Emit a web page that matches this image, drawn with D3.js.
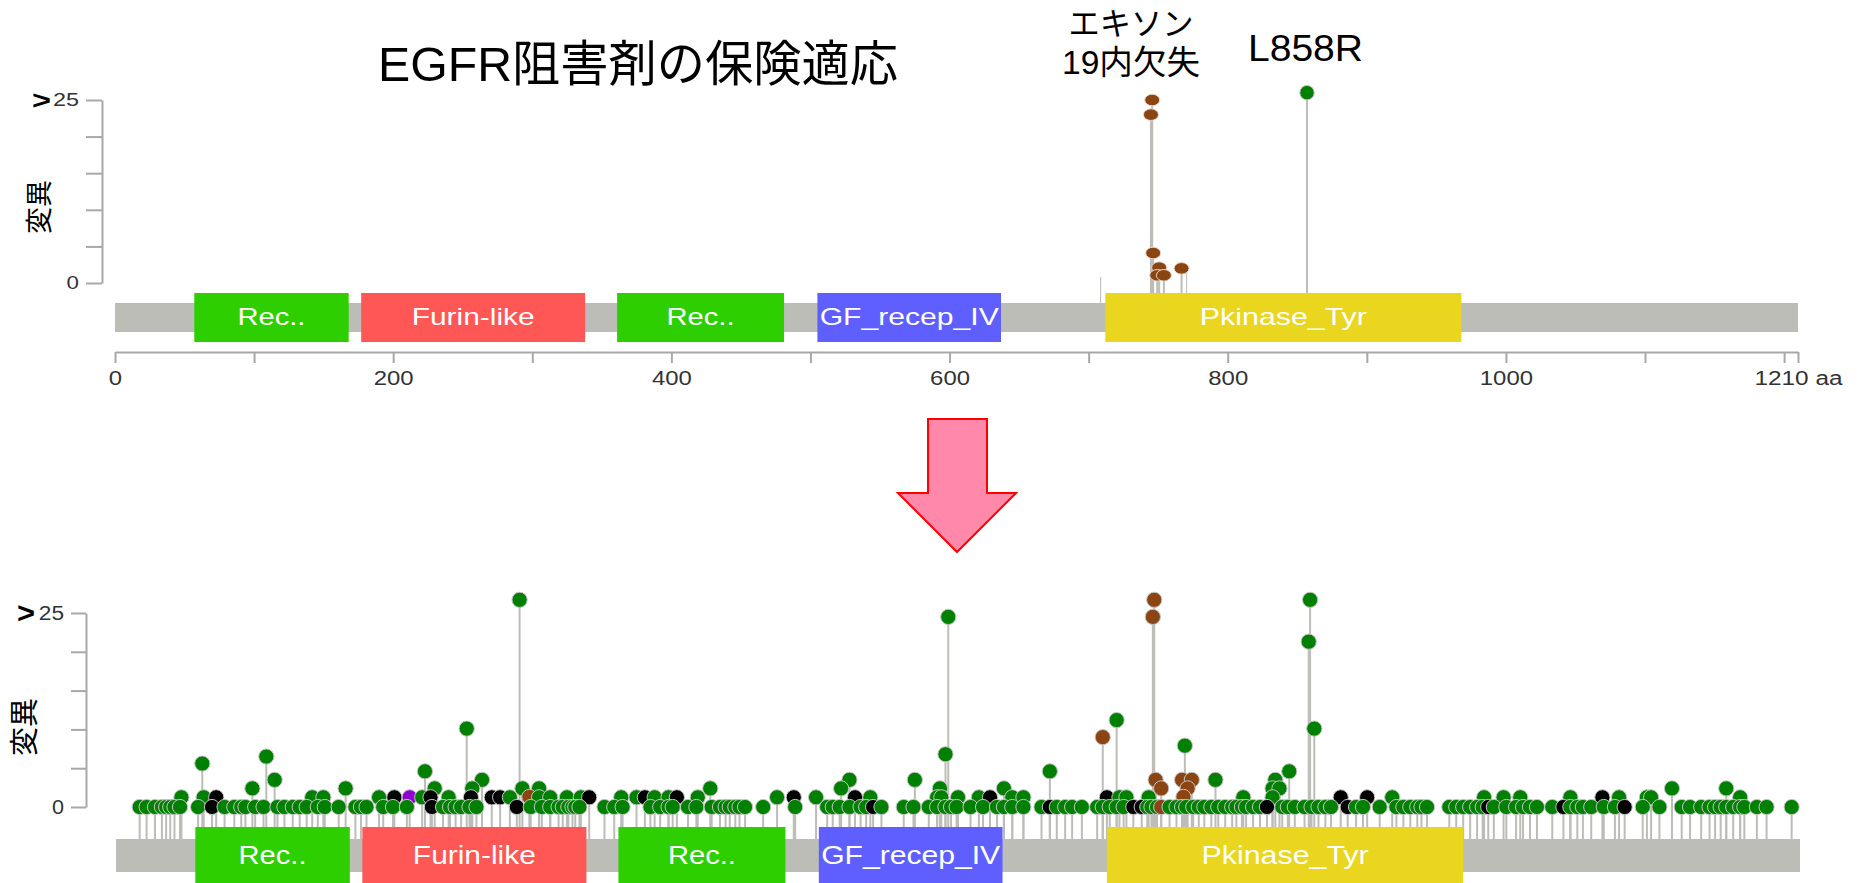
<!DOCTYPE html>
<html><head><meta charset="utf-8">
<script src="https://cdn.jsdelivr.net/npm/d3@7"></script>
<style>
body{margin:0;background:#fff;}
svg{display:block;}
text{font-family:'Liberation Sans','Noto Sans CJK JP',sans-serif;}
</style></head><body>
<svg id="c" width="1864" height="883"></svg>
<script>
// ---------------- data ----------------
const proteinLength = 1210;
const domainNames  = ["Rec..", "Furin-like", "Rec..", "GF_recep_IV", "Pkinase_Tyr"];
const domainStart  = [57, 177, 361, 505, 712];
const domainEnd    = [168, 338, 481, 637, 968];
const xTickValues  = [0,100,200,300,400,500,600,700,800,900,1000,1100,1200,1210];
const xTickLabels  = {0:"0",200:"200",400:"400",600:"600",800:"800",1000:"1000",1210:"1210 aa"};
const yTickValues  = [0,5,10,15,20,25];
const titleText    = "EGFR阻害剤の保険適応";
const yAxisTitle   = "変異";
const noteExon19   = ["エキソン", "19内欠失"];
const noteL858R    = "L858R";

// top chart (approved targets): [aa position, count-axis value]
const topBrown = [[745.7,25.0],[744.8,23.0],[746.4,4.1],[750.7,2.1],[749.3,1.05],[754.1,1.05],[766.8,2.0]];
const topGreen = [[857,26]];
const topBareStems = [[708.6,0.8],[770.4,2.0]];

// bottom chart (all mutations)
const botGreen = [
 [17,0],[22,0],[28,0],[33,0],[36,0],[39,0],[42,0],[46,0],[59,0],[78,0],[85,0],[90,0],[93,0],[100,0],[106,0],[116,0],[121,0],[127,0],[132,0],[137,0],[145,0],[150,0],[160,0],[172,0],[176,0],[180,0],[192,0],[199,0],[209,0],[235,0],[240,0],[244,0],[248,0],[254,0],[259,0],[298,0],[306,0],[312,0],[318,0],[321,0],[325,0],[328,0],[330,0],[333,0],[351,0],[358,0],[364,0],[384,0],[391,0],[397,0],[400,0],[411,0],[417,0],[428,0],[434,0],[438,0],[441,0],[445,0],[448,0],[452,0],[465,0],[488,0],[511,0],[515,0],[520,0],[527,0],[535,0],[539,0],[550,0],[566,0],[573,0],[584,0],[590,0],[596,0],[600,0],[604,0],[614,0],[623,0],[633,0],[638,0],[644,0],[652,0],[665,0],[676,0],[682,0],[687,0],[694,0],[705,0],[709,0],[714,0],[719,0],[724,0],[741,0],[744,0],[748,0],[757,0],[762,0],[766,0],[769,0],[774,0],[778,0],[782,0],[787,0],[792,0],[797,0],[802,0],[805,0],[809,0],[812,0],[817,0],[822,0],[838,0],[842,0],[847,0],[854,0],[859,0],[864,0],[869,0],[873,0],[891,0],[896,0],[908,0],[920,0],[925,0],[930,0],[935,0],[938,0],[942,0],[958,0],[963,0],[968,0],[973,0],[978,0],[982,0],[990,0],[999,0],[1006,0],[1011,0],[1016,0],[1021,0],[1032,0],[1045,0],[1050,0],[1054,0],[1060,0],[1069,0],[1077,0],[1097,0],[1109,0],[1125,0],[1131,0],[1139,0],[1145,0],[1149,0],[1153,0],[1157,0],[1162,0],[1167,0],[1170,0],[1179,0],[1186,0],[1204,0],
 [47,1.25],[63,1.25],[141,1.25],[149,1.25],[189,1.25],[220,1.25],[239,1.25],[283,1.25],[304,1.25],[312,1.25],[324,1.25],[334,1.25],[363,1.25],[374,1.25],[387,1.25],[397,1.25],[418,1.25],[475,1.25],[503,1.25],[542,1.25],[590,1.25],[593,1.25],[605,1.25],[620,1.25],[644,1.25],[652,1.25],[721,1.25],[726,1.25],[742,1.25],[810,1.25],[831,1.25],[917,1.25],[983,1.25],[997,1.25],[1009,1.25],[1045,1.25],[1080,1.25],[1100,1.25],[1103,1.25],[1167,1.25],
 [98,2.4],[165,2.4],[229,2.4],[256,2.4],[292,2.4],[304,2.4],[427,2.4],[521,2.4],[592,2.4],[638,2.4],[831,2.4],[836,2.4],[1118,2.4],[1157,2.4],
 [114,3.5],[263,3.5],[527,3.5],[574,3.5],[790,3.5],[833,3.5],
 [222,4.6],[671,4.6],[843,4.6],
 [62,5.6],[108,6.5],[596,6.8],[768,7.9],[252,10.1],[861,10.1],[719,11.2],[857,21.3],[598,24.5],[290,26.7],[858,26.7]
];
const botBlack = [
 [69,0],[227,0],[288,0],[544,0],[671,0],[731,0],[737,0],[827,0],[885,0],[986,0],[1040,0],[1084,0],
 [72,1.25],[200,1.25],[226,1.25],[255,1.25],[270,1.25],[276,1.25],[340,1.25],[380,1.25],[403,1.25],[487,1.25],[531,1.25],[628,1.25],[712,1.25],[880,1.25],[899,1.25],[1068,1.25]
];
const botBrown = [[751,0],[297,1.3],[767,1.3],[751,2.4],[770,2.4],[747,3.5],[766,3.5],[773,3.5],[709,9.0],[745,24.5],[746,26.7]];
const botPurple = [[211,1.25]];

// ---------------- styles / layout ----------------
const COL = {green:"#008000", black:"#000000", brown:"#8b4513", purple:"#9400d3",
  bar:"#bbbdb6", stem:"#bcbcb8", axis:"#a8a8a8", label:"#333"};
const domainColors = ["#2ecf00","#ff5656","#2ecf00","#5f5fff","#ead61e"];
const domainLabelWidth = [68, 123, 68, 179, 167];

const svg = d3.select("#c");

function track(cfg){
  const g = svg.append("g");
  const x = d3.scaleLinear([0, proteinLength], cfg.xr);
  const y = d3.scaleLinear([0, 25], cfg.yr);

  const ya = g.append("g").attr("transform", `translate(${cfg.yAxisX},0)`)
    .call(d3.axisLeft(y).tickValues(yTickValues).tickSize(cfg.tick).tickSizeOuter(0).tickFormat(""));
  ya.select(".domain").attr("stroke", COL.axis).attr("stroke-width", 2);
  ya.selectAll(".tick line").attr("stroke", COL.axis).attr("stroke-width", 2);
  g.append("text").attr("x", cfg.yAxisX - cfg.tick - 7).attr("y", y(0) + cfg.yFont*0.36)
    .attr("text-anchor","end").attr("font-size", cfg.yFont).attr("fill", COL.label)
    .attr("textLength", cfg.zeroW).attr("lengthAdjust","spacingAndGlyphs").text("0");
  g.append("text").attr("x", cfg.yAxisX - cfg.tick - 7).attr("y", y(25) + cfg.yFont*0.36)
    .attr("text-anchor","end").attr("font-size", cfg.yFont).attr("fill", COL.label)
    .attr("textLength", cfg.zeroW*2.1).attr("lengthAdjust","spacingAndGlyphs").text("25");
  g.append("text").attr("x", cfg.gtX).attr("y", y(25) + cfg.yFont*0.5)
    .attr("font-size", cfg.yFont*1.45).attr("font-weight","bold").attr("fill","#000")
    .attr("textLength", cfg.gtW).attr("lengthAdjust","spacingAndGlyphs").text(">");
  g.append("text").attr("transform", `translate(${cfg.titleX},${cfg.titleY}) rotate(-90)`)
    .attr("text-anchor","middle").attr("dominant-baseline","central")
    .attr("font-size", cfg.titleFont).attr("fill","#000").text(yAxisTitle);

  g.append("g").selectAll("line").data(cfg.circles.map(d => d.p)).join("line")
    .attr("x1", d => x(d[0])).attr("x2", d => x(d[0]))
    .attr("y1", d => y(d[1])).attr("y2", cfg.barY)
    .attr("stroke", COL.stem).attr("stroke-width", 2);
  if (cfg.bare) {
    g.append("g").selectAll("line").data(cfg.bare).join("line")
      .attr("x1", d => x(d[0])).attr("x2", d => x(d[0]))
      .attr("y1", d => y(d[1])).attr("y2", cfg.barY)
      .attr("stroke", "#c4c4c0").attr("stroke-width", 1.2);
  }

  g.append("rect").attr("x", x(0)).attr("width", x(proteinLength)-x(0))
    .attr("y", cfg.barY).attr("height", cfg.barH).attr("fill", COL.bar);
  const dg = g.append("g").selectAll("g").data(domainNames).join("g");
  dg.append("rect").attr("x",(d,i)=>x(domainStart[i])).attr("width",(d,i)=>x(domainEnd[i])-x(domainStart[i]))
    .attr("y", cfg.domY).attr("height", cfg.domH).attr("fill",(d,i)=>domainColors[i]);
  dg.append("text").attr("x",(d,i)=>(x(domainStart[i])+x(domainEnd[i]))/2).attr("y", cfg.domBase)
    .attr("text-anchor","middle").attr("fill","#fff").attr("font-size", cfg.domFont)
    .attr("textLength",(d,i)=>domainLabelWidth[i]).attr("lengthAdjust","spacingAndGlyphs").text(d=>d);

  g.append("g").selectAll("ellipse").data(cfg.circles).join("ellipse")
    .attr("cx", d => x(d.p[0])).attr("cy", d => y(d.p[1]))
    .attr("rx", d => d.rx).attr("ry", d => d.ry)
    .attr("fill", d => COL[d.c]).attr("stroke", d => d.s).attr("stroke-width", 1);
  return {g, x, y};
}

function tag(arr, c, rx, ry, s){ return arr.map(p => ({p, c, rx, ry, s})); }

// ---------- top chart ----------
const topCircles = tag(topBrown,"brown",7.5,5.8,"#e8d8cc").concat(tag(topGreen,"green",7.2,7.2,"#c0c0c0"));
const topTrack = track({xr:[115,1798], yr:[283,100], yAxisX:102, tick:16, yFont:17.5, zeroW:12.4,
  gtX:32, gtW:19, titleX:40, titleY:207, titleFont:27,
  barY:303, barH:29, domY:293, domH:49, domBase:325, domFont:24,
  circles: topCircles, bare: topBareStems});

const xa = svg.append("g").attr("transform","translate(0,352)")
  .call(d3.axisBottom(topTrack.x).tickValues(xTickValues).tickSize(11).tickSizeOuter(0)
    .tickFormat(d => xTickLabels[d] || ""));
xa.select(".domain").attr("stroke", COL.axis).attr("stroke-width", 2);
xa.selectAll(".tick line").attr("stroke", COL.axis).attr("stroke-width", 2);
xa.selectAll(".tick text").attr("y", 33).attr("dy", null).attr("fill", COL.label)
  .attr("font-size", 19.5).attr("font-family", "'Liberation Sans',sans-serif")
  .each(function(d){ const t = xTickLabels[d]; if (t) d3.select(this).attr("textLength", d===1210 ? 88 : t.length*13.3).attr("lengthAdjust","spacingAndGlyphs"); });

// ---------- bottom chart ----------
const botCircles = [].concat(tag(botGreen,"green",7.6,7.6,"#c4c4c4"), tag(botBlack,"black",7.6,7.6,"#c4c4c4"),
  tag(botBrown,"brown",7.6,7.6,"#c4c4c4"), tag(botPurple,"purple",7.6,7.6,"#c4c4c4"))
  .sort((a,b) => (b.p[1]-a.p[1]) || (a.p[0]-b.p[0]));
const botTrack = track({xr:[116,1800], yr:[807,613], yAxisX:86, tick:15, yFont:20, zeroW:12,
  gtX:17, gtW:18, titleX:25, titleY:727, titleFont:29,
  barY:839, barH:33, domY:827, domH:57, domBase:864, domFont:26.5,
  circles: botCircles});

// ---------- texts ----------
svg.append("text").attr("x",638).attr("y",81).attr("text-anchor","middle")
  .attr("font-size",49).attr("fill","#000").attr("textLength",520).attr("lengthAdjust","spacingAndGlyphs").text(titleText);
svg.append("text").attr("x",1131).attr("y",35).attr("text-anchor","middle")
  .attr("font-size",32).attr("fill","#000").attr("textLength",125).attr("lengthAdjust","spacingAndGlyphs").text(noteExon19[0]);
svg.append("text").attr("x",1131).attr("y",74).attr("text-anchor","middle")
  .attr("font-size",33).attr("fill","#000").attr("textLength",138).attr("lengthAdjust","spacingAndGlyphs").text(noteExon19[1]);
svg.append("text").attr("x",1305.5).attr("y",61).attr("text-anchor","middle")
  .attr("font-size",36.5).attr("fill","#000").attr("textLength",115).attr("lengthAdjust","spacingAndGlyphs").text(noteL858R);

// ---------- arrow ----------
const arrowPts = [[928,419],[987,419],[987,493],[1016,493],[957,552],[898,493],[928,493]];
svg.append("polygon").attr("points", arrowPts.map(p=>p.join(",")).join(" "))
  .attr("fill","#ff88ab").attr("stroke","#ff0000").attr("stroke-width",2);
</script>
</body></html>
